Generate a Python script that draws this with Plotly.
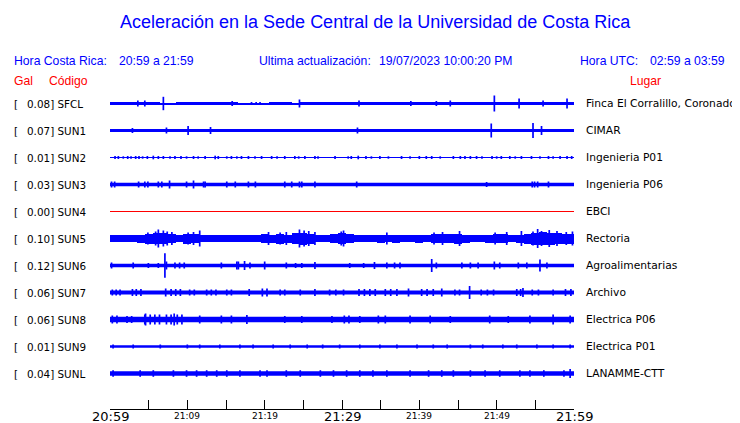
import plotly.graph_objects as go

# ---------------- data ----------------
stations = ["SFCL", "SUN1", "SUN2", "SUN3", "SUN4", "SUN5", "SUN6", "SUN7", "SUN8", "SUN9", "SUNL"]
gal_values = ["0.08", "0.07", "0.01", "0.03", "0.00", "0.10", "0.12", "0.06", "0.06", "0.01", "0.04"]
places = ["Finca El Corralillo, Coronado", "CIMAR", "Ingenieria P01", "Ingenieria P06", "EBCI",
          "Rectoria", "Agroalimentarias", "Archivo", "Electrica P06", "Electrica P01", "LANAMME-CTT"]

tick_minutes = [0, 10, 20, 30, 40, 50, 60]
tick_labels = ["20:59", "21:09", "21:19", "21:29", "21:39", "21:49", "21:59"]
tick_major = [True, False, False, True, False, False, True]

# background noise half-amplitude (px) of each trace (constant-band traces)
base_half = [None, None, 0.5, 1.8, 0.5, None, 1.7, 2.0, 2.8, 1.3, 2.3]

# per-minute envelope half-amplitude (px) for the traces with a varying band
env_minutes = list(range(61))
env_SFCL = [1.8, 1.8, 1.6, 1.6, 1.6, 1.8, 1.8, 0.7, 0.7, 1.6,
            1.4, 1.2, 1.4, 1.4, 1.2, 1.6, 1.6, 0.7, 1.0, 1.0,
            0.7, 1.6, 1.4, 1.2, 0.7, 1.8, 1.8, 1.8, 1.8, 1.8,
            1.8, 1.8, 1.8, 1.8, 1.8, 1.6, 1.6, 1.6, 1.4, 1.6,
            1.6, 1.8, 1.8, 1.6, 1.8, 1.8, 1.4, 1.6, 1.6, 1.8,
            1.8, 1.8, 1.8, 1.8, 1.4, 1.6, 1.4, 1.2, 1.8, 1.8,
            1.8]
env_SUN1 = [1.8, 1.8, 1.8, 1.8, 1.8, 1.8, 1.8, 1.6, 1.8, 1.8,
            1.2, 1.8, 1.8, 1.8, 1.8, 1.6, 1.6, 1.4, 1.8, 1.8,
            1.2, 1.8, 1.8, 1.4, 1.8, 1.8, 1.8, 1.8, 1.8, 1.8,
            1.2, 1.2, 1.8, 1.8, 1.6, 1.6, 1.6, 1.6, 1.4, 1.8,
            1.8, 1.8, 1.8, 1.8, 1.8, 1.8, 1.8, 1.8, 1.8, 1.8,
            1.8, 1.8, 1.8, 1.8, 1.8, 1.8, 1.8, 1.8, 1.8, 1.8,
            1.8]
env_SUN5 = [3.5, 3.5, 3.3, 3.3, 4.0, 5.0, 5.5, 5.5, 4.5, 3.5,
            5.0, 4.5, 3.8, 3.5, 3.5, 3.5, 3.3, 3.3, 3.3, 3.5,
            4.5, 4.0, 5.0, 4.0, 5.5, 6.0, 5.0, 3.8, 3.5, 4.5,
            5.5, 4.5, 3.8, 3.8, 3.5, 4.0, 3.8, 4.0, 3.8, 3.5,
            4.0, 3.8, 4.5, 4.8, 4.5, 5.0, 4.0, 3.5, 3.5, 4.0,
            4.8, 4.5, 3.8, 4.0, 5.0, 6.0, 6.5, 6.0, 5.5, 5.0,
            5.0]

# peaks: (minute after 20:59, half-amplitude px)
spk_SFCL = [(3.6, 3), (4.5, 3), (6.9, 6.7), (15.8, 2.5), (18.3, 1.5), (18.9, 1.5), (19.4, 1.5),
            (24.5, 4), (32.2, 3), (38.9, 2.5), (42.2, 2.5), (44.0, 3), (49.7, 8), (52.9, 5),
            (56.0, 3), (59.1, 5)]
spk_SUN1 = [(2.9, 2.5), (7.3, 3), (10.1, 4.5), (13.0, 3.5), (32.0, 3), (49.3, 7), (54.7, 7.5), (55.8, 4.5)]
spk_SUN2 = [(0.65, 1.5), (1.08, 1.5), (1.72, 1.2), (2.29, 1.5), (2.72, 1.2), (3.32, 1.5), (3.75, 1.5),
            (4.22, 1.2), (4.83, 1.5), (5.6, 1.8), (6.25, 1.5), (6.9, 1.5), (7.76, 1.2), (8.4, 1.5),
            (9.18, 1.5), (9.9, 1.2), (10.8, 1.5), (11.4, 1.2), (12.3, 1.5), (13.6, 1.8), (14.0, 1.5),
            (15.1, 1.2), (15.7, 1.5), (16.4, 1.2), (17.0, 1.5), (17.9, 1.5), (18.75, 1.2), (19.6, 1.5),
            (20.9, 1.5), (21.6, 1.2), (22.6, 1.5), (23.9, 1.5), (24.4, 1.2), (25.2, 1.5), (26.5, 1.5),
            (26.9, 1.2), (29.1, 1.5), (30.8, 1.2), (31.2, 1.5), (32.1, 1.8), (33.1, 1.5), (33.8, 1.2),
            (34.9, 1.5), (36.0, 1.2), (37.7, 1.5), (38.8, 1.2), (40.0, 1.5), (40.9, 1.5), (41.6, 1.5),
            (42.7, 1.2), (44.4, 1.5), (45.3, 1.5), (45.9, 1.5), (46.6, 1.5), (47.4, 1.5), (48.1, 1.2),
            (49.4, 1.5), (50.0, 1.2), (50.6, 1.5), (51.7, 1.5), (52.4, 1.2), (53.2, 1.5), (54.5, 1.5),
            (55.6, 1.2), (56.7, 1.5), (57.3, 1.2), (58.2, 1.5), (59.1, 1.5), (59.7, 1.5)]
spk_SUN3 = [(0.2, 3), (0.6, 3), (3.7, 3), (4.5, 3), (4.9, 3), (6.25, 3), (6.7, 3), (7.7, 4), (9.9, 3),
            (10.8, 4), (12.1, 3), (12.3, 3), (15.1, 3), (16.2, 3), (17.9, 3), (18.8, 3), (22.6, 3),
            (23.5, 3), (24.5, 3), (24.8, 3), (26.5, 3), (31.9, 3), (48.7, 2.5), (54.6, 3), (54.9, 3),
            (55.3, 3), (56.7, 3)]
spk_SUN4 = []
spk_SUN5 = [(4.9, 6), (5.9, 7), (6.25, 9), (6.9, 8), (7.4, 7), (8.0, 6.5), (10.1, 6), (10.8, 6.5),
            (11.6, 8), (20.5, 6.5), (22.0, 6), (22.8, 6.5), (24.5, 9), (25.1, 8), (25.7, 7.5),
            (26.5, 6.5), (29.9, 7), (30.2, 8), (35.8, 6), (41.9, 6), (43.0, 6.5), (45.2, 7.5),
            (49.8, 6), (51.3, 6.5), (53.2, 7.5), (54.7, 7), (55.3, 9.5), (55.8, 7.5), (56.8, 8.5),
            (57.8, 7.5), (59.0, 6.5), (59.8, 7)]
spk_SUN6 = [(0.2, 3), (3.0, 3), (4.96, 2.5), (6.25, 2.5), (7.1, 12.3), (7.3, 4), (8.4, 3), (9.0, 3),
            (9.6, 3), (14.4, 3), (16.4, 4), (16.6, 4), (17.4, 4.5), (18.1, 3), (20.0, 4), (22.8, 3),
            (24.0, 2.5), (24.8, 2.5), (26.5, 3.5), (31.0, 2.5), (32.8, 2.5), (34.2, 3.5), (35.8, 3),
            (36.8, 3), (37.5, 3), (41.6, 6.5), (42.2, 3), (45.5, 3), (46.6, 3), (47.6, 3), (49.7, 4),
            (50.4, 3), (52.8, 3), (53.9, 3), (55.6, 6), (56.5, 3)]
spk_SUN7 = [(0.3, 3), (0.8, 3), (1.3, 3), (2.9, 3.5), (3.4, 3.5), (4.0, 3.5), (7.2, 4), (7.9, 3.5),
            (8.5, 3.5), (9.1, 3.5), (10.3, 3), (10.9, 3), (12.5, 3), (13.1, 3), (13.7, 3), (15.1, 3),
            (15.7, 3), (18.0, 3.5), (19.7, 4), (20.3, 4), (22.0, 3), (22.6, 3), (24.6, 3), (26.5, 3.5),
            (28.4, 3), (29.2, 3), (30.2, 3), (32.2, 3.5), (32.9, 3.5), (33.6, 3.5), (34.3, 3.5),
            (35.6, 3.5), (36.3, 3.5), (37.1, 3.5), (38.6, 4), (40.3, 3.5), (41.0, 3.5), (41.8, 3.5),
            (42.9, 4), (44.6, 3), (45.2, 3), (46.5, 6.5), (48.0, 3), (48.8, 3), (49.6, 3), (52.6, 3.5),
            (53.1, 3.5), (53.4, 4.5), (54.6, 3), (55.4, 3), (57.3, 3), (58.9, 3.5), (59.6, 3.5)]
spk_SUN8 = [(0.3, 4), (0.9, 4), (2.2, 3.5), (2.8, 3.5), (4.5, 5), (4.6, 6), (5.2, 5), (5.8, 5), (6.4, 5),
            (7.3, 5), (7.9, 5), (8.3, 6), (8.7, 5), (9.3, 5), (11.6, 4), (14.4, 4), (15.7, 4), (17.7, 4.5),
            (22.6, 3.5), (24.8, 3.5), (28.7, 3.5), (30.3, 4), (30.9, 4), (32.3, 3.5), (34.7, 4),
            (35.6, 4), (38.8, 4), (41.4, 4), (44.0, 3.5), (49.1, 4), (51.5, 3.5), (54.3, 4), (57.3, 5),
            (59.5, 4)]
spk_SUN9 = [(0.4, 2), (3.0, 2), (6.5, 2), (10.0, 2), (11.6, 2), (14.2, 2), (16.8, 2), (18.5, 2),
            (21.1, 2), (23.3, 2), (25.5, 2), (27.5, 2), (29.7, 2), (32.3, 2), (34.9, 2), (37.1, 2),
            (39.7, 2), (41.8, 2), (43.6, 2), (46.6, 2), (48.2, 2), (50.8, 2), (52.6, 2), (55.2, 2),
            (57.3, 2), (59.5, 2)]
spk_SUNL = [(0.4, 3.3), (3.9, 3.3), (5.6, 3.3), (8.2, 3.3), (9.9, 3.3), (11.2, 3.3), (12.5, 3.3),
            (13.8, 3.3), (15.1, 3.3), (16.8, 3.3), (19.4, 3.3), (20.3, 3.3), (22.8, 3.3), (24.6, 3.3),
            (27.2, 3.3), (28.9, 3.3), (30.6, 3.3), (32.3, 3.3), (34.0, 3.3), (35.8, 3.3), (38.8, 3.3),
            (41.2, 3.3), (42.9, 3.3), (44.4, 3.3), (46.6, 3.3), (48.5, 3.3), (50.4, 3.3), (53.0, 3.3),
            (54.3, 3.3), (56.1, 3.3), (58.7, 3.3), (59.5, 4.5)]

envelopes = {"SFCL": env_SFCL, "SUN1": env_SUN1, "SUN5": env_SUN5}
spikes = [spk_SFCL, spk_SUN1, spk_SUN2, spk_SUN3, spk_SUN4, spk_SUN5,
          spk_SUN6, spk_SUN7, spk_SUN8, spk_SUN9, spk_SUNL]

# ---------------- layout geometry ----------------
# the page body adds an 8px margin, so the figure is made 8px smaller
PAGE_W, PAGE_H, BODY = 740, 423, 8
W, H = PAGE_W - BODY, PAGE_H - BODY
PLOT_L, PLOT_R, PLOT_T, PLOT_B = 110, 574, 88, 409   # page pixels
ML, MR, MT, MB = PLOT_L - BODY, PAGE_W - PLOT_R, PLOT_T - BODY, PAGE_H - PLOT_B
PW, PH = PLOT_R - PLOT_L, PLOT_B - PLOT_T
ROW_PX = 27.0
FIRST_ROW_PY = 103.5
y_top = (FIRST_ROW_PY - PLOT_T) / ROW_PX
y_bot = -(PLOT_B - FIRST_ROW_PY) / ROW_PX
px_unit = PH / (y_top - y_bot)  # pixels per y-unit
PAD = 3  # annotation inner padding in px


def a2u(a):
    return a / px_unit


def xp(px):
    return (px - PLOT_L) / PW


def yp(py):
    return (PLOT_B - py) / PH


BLUE = "#0000ff"
RED = "#ff0000"
TRACE_BLUE = "#0000ff"

fig = go.Figure()

for i, st in enumerate(stations):
    c = -i
    col = RED if st == "SUN4" else TRACE_BLUE
    fig.add_trace(go.Scatter(x=[0, 60], y=[c, c], mode="lines",
                             line=dict(color=col, width=1), hoverinfo="skip"))
    if st in envelopes:
        env = envelopes[st]
        fig.add_trace(go.Bar(x=env_minutes, y=[2 * a2u(a) for a in env],
                             base=[c - a2u(a) for a in env], width=1.0,
                             marker=dict(color=col, line=dict(width=0)), hoverinfo="skip"))
    elif base_half[i] and base_half[i] > 0.6:
        fig.add_trace(go.Scatter(x=[0, 60], y=[c, c], mode="lines",
                                 line=dict(color=col, width=2 * base_half[i]), hoverinfo="skip"))
    xs, ys = [], []
    for t, a in spikes[i]:
        xs += [t, t, None]
        ys += [c - a2u(a), c + a2u(a), None]
    if xs:
        fig.add_trace(go.Scatter(x=xs, y=ys, mode="lines", connectgaps=False,
                                 line=dict(color=col, width=1.7), hoverinfo="skip"))

ann = []
LBL_FONT = dict(family="DejaVu Sans", size=10.4, color="black")
PLACE_FONT = dict(family="DejaVu Sans", size=10.7, color="black")
for i, st in enumerate(stations):
    py = FIRST_ROW_PY + i * ROW_PX + 0.5
    ann.append(dict(x=xp(15 - PAD), y=yp(py), xref="paper", yref="paper", text="[",
                    xanchor="left", yanchor="middle", showarrow=False, font=LBL_FONT))
    ann.append(dict(x=xp(28 - PAD), y=yp(py), xref="paper", yref="paper",
                    text=f"{gal_values[i]}] {st}",
                    xanchor="left", yanchor="middle", showarrow=False, font=LBL_FONT))
    ann.append(dict(x=xp(587 - PAD), y=yp(py - 0.5), xref="paper", yref="paper", text=places[i],
                    xanchor="left", yanchor="middle", showarrow=False, font=PLACE_FONT))

HDR = dict(family="Liberation Sans, Arial, sans-serif", size=12.2, color=BLUE)
HDR_RED = dict(family="Liberation Sans, Arial, sans-serif", size=12.2, color=RED)
header = [
    ("Hora Costa Rica:", 15, 61, HDR),
    ("20:59 a 21:59", 120, 61, HDR),
    ("Ultima actualización:", 260, 61, HDR),
    ("19/07/2023 10:00:20 PM", 380, 61, HDR),
    ("Hora UTC:", 581, 61, HDR),
    ("02:59 a 03:59", 651, 61, HDR),
    ("Gal", 15, 81, HDR_RED),
    ("Código", 50, 81, HDR_RED),
    ("Lugar", 631, 81, HDR_RED),
]
for txt, px, py, f in header:
    ann.append(dict(x=xp(px - PAD), y=yp(py), xref="paper", yref="paper", text=txt,
                    xanchor="left", yanchor="middle", showarrow=False, font=f))

ann.append(dict(x=xp(375), y=yp(22), xref="paper", yref="paper",
                text="Aceleración en la Sede Central de la Universidad de Costa Rica",
                xanchor="center", yanchor="middle", showarrow=False,
                font=dict(family="Liberation Sans, Arial, sans-serif", size=18, color=BLUE)))

for m, lab, major in zip(tick_minutes, tick_labels, tick_major):
    ann.append(dict(x=m, y=yp(416.5 if major else 415.5), xref="x", yref="paper", text=lab,
                    xanchor="center", yanchor="middle", showarrow=False,
                    font=dict(family="DejaVu Sans", size=13 if major else 9, color="black")))

fig.update_layout(
    width=W, height=H,
    margin=dict(l=ML, r=MR, t=MT, b=MB, pad=0),
    paper_bgcolor="white", plot_bgcolor="white",
    showlegend=False, barmode="overlay", bargap=0,
    annotations=ann,
    xaxis=dict(range=[0, 60], showline=True, linecolor="black", linewidth=1,
               ticks="inside", ticklen=9, tickwidth=1, tickcolor="black",
               tickmode="array", tickvals=list(range(0, 61, 5)), showticklabels=False,
               showgrid=False, zeroline=False, fixedrange=True),
    yaxis=dict(range=[y_bot, y_top], visible=False, showgrid=False, zeroline=False,
               fixedrange=True),
)

fig.write_html("out.html")
